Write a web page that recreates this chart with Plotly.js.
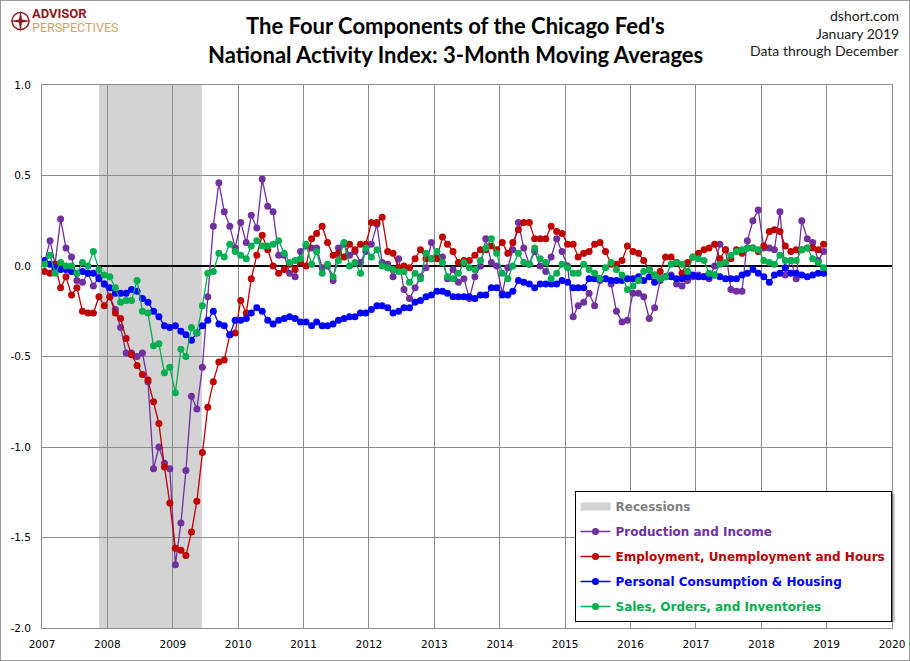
<!DOCTYPE html>
<html>
<head>
<meta charset="utf-8">
<script src="https://cdn.plot.ly/plotly-3.0.1.min.js"></script>
<style>
  html, body { margin: 0; padding: 0; background: #fff; }
  #chart { width: 910px; height: 661px; box-sizing: border-box; border: 1px solid #9a9a9a; }
</style>
</head>
<body>
<div id="chart"></div>
<script>
// ---------------- DATA ----------------
const startYear = 2007;
const endYear = 2018;
const seriesNames = [
  "Production and Income",
  "Employment, Unemployment and Hours",
  "Personal Consumption & Housing",
  "Sales, Orders, and Inventories"
];
const production = [
  0.02, 0.14, 0.01, 0.26, 0.10, 0.05, -0.08, -0.09, -0.04, -0.11, -0.06, -0.10,
  -0.17, -0.24, -0.34, -0.48, -0.48, -0.50, -0.48, -0.64, -1.12, -1.00, -1.09, -1.12,
  -1.65, -1.42, -1.13, -0.72, -0.79, -0.56, -0.17, 0.22, 0.46, 0.30, 0.22, 0.10,
  0.24, 0.13, 0.28, 0.21, 0.48, 0.33, 0.30, 0.06, 0.06, -0.04, -0.06, 0.08,
  0.11, 0.10, 0.10, -0.01, 0.00, -0.08, 0.10, 0.12, 0.06, 0.08, 0.02, 0.08,
  0.12, 0.23, 0.02, 0.01, -0.06, 0.04, -0.13, -0.18, -0.12, -0.06, -0.01, 0.13,
  0.06, 0.05, -0.07, -0.02, -0.09, -0.07, -0.18, -0.06, 0.00, 0.15, 0.02, 0.00,
  -0.15, -0.01, 0.09, 0.24, 0.10, 0.01, 0.08, 0.00, -0.03, 0.05, 0.15, 0.08,
  0.00, -0.28, -0.22, -0.20, -0.15, -0.22, -0.08, -0.07, -0.10, -0.25, -0.31, -0.30,
  -0.15, -0.15, -0.17, -0.29, -0.23, -0.08, -0.06, -0.05, -0.10, -0.11, -0.08, -0.06,
  -0.05, -0.06, -0.07, 0.00, 0.12, 0.09, -0.13, -0.14, -0.14, 0.14, 0.25, 0.31,
  0.10, 0.10, 0.09, 0.30, -0.05, 0.03, -0.07, 0.25, 0.15, 0.13, 0.03, 0.08
];
const employment = [
  -0.03, -0.04, 0.01, -0.12, -0.06, -0.16, -0.12, -0.25, -0.26, -0.26, -0.17, -0.22,
  -0.17, -0.26, -0.29, -0.40, -0.49, -0.55, -0.60, -0.63, -0.75, -0.87, -1.11, -1.31,
  -1.56, -1.57, -1.60, -1.47, -1.30, -1.03, -0.78, -0.64, -0.53, -0.52, -0.38, -0.37,
  -0.19, -0.26, -0.07, 0.06, 0.17, 0.09, 0.00, -0.04, -0.02, 0.01, -0.02, 0.02,
  0.00, 0.15, 0.18, 0.22, 0.13, 0.06, 0.07, 0.05, 0.12, 0.09, 0.12, 0.12,
  0.24, 0.24, 0.27, 0.08, 0.07, -0.01, 0.00, -0.01, 0.04, 0.09, 0.04, 0.04,
  0.04, 0.16, 0.12, 0.08, 0.02, 0.03, 0.03, 0.06, 0.09, 0.09, 0.11, 0.09,
  0.13, 0.07, 0.13, 0.20, 0.24, 0.24, 0.15, 0.15, 0.15, 0.22, 0.19, 0.18,
  0.12, 0.12, 0.05, 0.07, 0.08, 0.12, 0.13, 0.08, 0.01, 0.01, 0.03, 0.11,
  0.08, 0.07, 0.03, -0.02, -0.05, -0.03, 0.05, 0.05, 0.02, -0.04, 0.02, 0.05,
  0.07, 0.09, 0.10, 0.12, 0.04, 0.09, 0.04, 0.09, 0.07, 0.10, 0.10, 0.08,
  0.11, 0.19, 0.20, 0.19, 0.11, 0.08, 0.09, 0.09, 0.10, 0.10, 0.09, 0.12
];
const consumption = [
  0.03, 0.01, -0.01, -0.02, -0.02, -0.03, -0.04, -0.03, -0.04, -0.04, -0.07, -0.10,
  -0.12, -0.15, -0.15, -0.15, -0.13, -0.14, -0.18, -0.20, -0.25, -0.28, -0.33, -0.34,
  -0.33, -0.36, -0.38, -0.41, -0.37, -0.33, -0.30, -0.25, -0.32, -0.33, -0.38, -0.30,
  -0.30, -0.29, -0.26, -0.23, -0.25, -0.30, -0.32, -0.30, -0.29, -0.28, -0.29, -0.31,
  -0.31, -0.33, -0.31, -0.33, -0.33, -0.32, -0.30, -0.29, -0.28, -0.28, -0.26, -0.26,
  -0.24, -0.22, -0.22, -0.23, -0.26, -0.25, -0.23, -0.23, -0.20, -0.19, -0.17, -0.16,
  -0.14, -0.14, -0.15, -0.17, -0.17, -0.17, -0.17, -0.18, -0.16, -0.16, -0.12, -0.12,
  -0.16, -0.16, -0.14, -0.08, -0.09, -0.10, -0.12, -0.10, -0.10, -0.10, -0.10, -0.08,
  -0.09, -0.12, -0.12, -0.12, -0.07, -0.07, -0.07, -0.07, -0.08, -0.08, -0.08, -0.07,
  -0.07, -0.06, -0.08, -0.06, -0.09, -0.07, -0.06, -0.06, -0.07, -0.07, -0.06, -0.05,
  -0.06, -0.06, -0.06, -0.05, -0.06, -0.07, -0.07, -0.07, -0.05, -0.04, -0.02, -0.04,
  -0.06, -0.09, -0.05, -0.04, -0.01, -0.04, -0.04, -0.05, -0.06, -0.05, -0.04, -0.04
];
const sales = [
  0.01, 0.06, -0.04, 0.02, 0.00, 0.00, -0.04, 0.02, 0.00, 0.08, -0.02, -0.05,
  -0.06, -0.12, -0.20, -0.19, -0.19, -0.08, -0.25, -0.26, -0.44, -0.43, -0.59, -0.56,
  -0.70, -0.46, -0.50, -0.34, -0.37, -0.22, -0.04, -0.03, 0.07, 0.05, 0.12, 0.08,
  0.06, 0.04, 0.11, 0.14, 0.11, 0.11, 0.12, 0.14, 0.07, 0.02, 0.03, 0.04,
  0.12, 0.01, 0.08, -0.04, 0.01, -0.06, 0.03, 0.13, 0.00, 0.02, -0.04, 0.10,
  0.05, 0.09, 0.00, -0.01, -0.02, -0.03, -0.03, -0.09, -0.04, -0.07, 0.07, 0.04,
  0.08, 0.02, -0.06, -0.07, -0.04, 0.02, -0.01, -0.02, 0.03, 0.10, 0.15, 0.07,
  -0.04, -0.07, 0.00, 0.07, 0.02, 0.01, 0.10, 0.04, 0.02, -0.07, -0.04, 0.01,
  -0.01, -0.04, -0.04, 0.01, -0.02, -0.04, -0.07, -0.01, 0.02, -0.02, -0.05, -0.13,
  -0.11, -0.08, -0.03, -0.02, -0.05, -0.07, -0.06, 0.01, 0.02, 0.01, -0.03, 0.05,
  0.04, 0.03, -0.04, -0.05, 0.01, 0.02, 0.06, 0.08, 0.09, 0.10, 0.10, 0.09,
  0.03, 0.02, 0.01, 0.06, 0.03, 0.03, 0.03, 0.09, 0.10, 0.04, 0.02, -0.01
];
const recessionStart = "2007-11-16";
const recessionEnd = "2009-06-12";
const yTickVals = [-2.0, -1.5, -1.0, -0.5, 0.0, 0.5, 1.0];
const yTickText = ["-2.0", "-1.5", "-1.0", "-0.5", "0.0", "0.5", "1.0"];

// ---------------- BUILD ----------------
const months = [];
for (let y = startYear; y <= endYear; y++) {
  for (let m = 1; m <= 12; m++) {
    months.push(y + "-" + String(m).padStart(2, "0") + "-15");
  }
}

const colors = ["#7030a0", "#c00000", "#0000ff", "#00b050"];
const values = [production, employment, consumption, sales];

function legendName(text, color) {
  return '<b><span style="color:' + color + '">' + text + '</span></b>';
}

const traces = [{
  x: [null], y: [null],
  type: "scatter", mode: "lines",
  name: legendName("Recessions", "#808080"),
  line: { color: "#d3d3d3", width: 8 },
  hoverinfo: "skip",
  legendgroup: "g0"
}];
values.forEach((vals, i) => {
  traces.push({
    x: months, y: vals,
    type: "scatter", mode: "lines+markers",
    name: legendName(seriesNames[i], colors[i]),
    line: { color: colors[i], width: 1.3 },
    marker: { color: colors[i], size: 7 },
    legendgroup: "g" + (i + 1)
  });
});

// plot area in page pixels: left 42, right 892, top 85, bottom 628
const PL = 42, PR = 892, PT = 85, PB = 628;
const px = v => (v - PL) / (PR - PL);
const py = v => (PB - v) / (PB - PT);

const titleFont = { family: "Lato, 'Open Sans', sans-serif", size: 22, color: "#000" };
const infoFont = { family: "Lato, 'Open Sans', sans-serif", size: 14, color: "#1a1a1a" };

const layout = {
  width: 908, height: 659,
  margin: { l: 41, r: 17, t: 84, b: 32 },
  paper_bgcolor: "#fff",
  plot_bgcolor: "#fff",
  showlegend: true,
  font: { family: "'DejaVu Sans', sans-serif", size: 11, color: "#000" },
  xaxis: {
    type: "date",
    range: ["2007-01-01", "2020-01-01"],
    tick0: "2007-01-01",
    dtick: "M12",
    tickformat: "%Y",
    showgrid: true,
    gridcolor: "#8c8c8c",
    gridwidth: 1,
    showline: true, mirror: true,
    linecolor: "#8c8c8c", linewidth: 1,
    ticks: "",
    ticklabelstandoff: 6,
    tickfont: { family: "'DejaVu Sans', sans-serif", size: 10.5, color: "#000" },
    zeroline: false,
    fixedrange: true
  },
  yaxis: {
    range: [-2.0, 1.0],
    tickvals: yTickVals,
    ticktext: yTickText,
    showgrid: true,
    gridcolor: "#8c8c8c",
    gridwidth: 1,
    showline: true, mirror: true,
    linecolor: "#8c8c8c", linewidth: 1,
    ticks: "",
    ticklabelstandoff: 8,
    tickfont: { family: "'DejaVu Sans', sans-serif", size: 10.5, color: "#000" },
    zeroline: true,
    zerolinecolor: "#000",
    zerolinewidth: 2.5,
    fixedrange: true
  },
  legend: {
    x: px(891.5), xanchor: "right",
    y: py(491), yanchor: "top",
    bgcolor: "#fff",
    bordercolor: "#000",
    borderwidth: 1,
    traceorder: "grouped",
    tracegroupgap: 6,
    font: { family: "'DejaVu Sans', sans-serif", size: 12 }
  },
  shapes: [
    {
      type: "rect", xref: "x", yref: "paper",
      x0: recessionStart, x1: recessionEnd, y0: 0, y1: 1,
      fillcolor: "#d3d3d3", line: { width: 0 }, layer: "below"
    },
    // legend drop shadow
    {
      type: "rect", xref: "paper", yref: "paper",
      x0: px(575), x1: px(895), y0: py(622), y1: py(494),
      fillcolor: "rgba(0,0,0,0.22)", line: { width: 0 }, layer: "above"
    },
    // logo compass
    {
      type: "circle", xref: "paper", yref: "paper",
      x0: px(12), x1: px(29), y0: py(29.5), y1: py(12.5),
      line: { color: "#8b1a1a", width: 1.5 }, fillcolor: "rgba(0,0,0,0)"
    },
    {
      type: "path", xref: "paper", yref: "paper",
      path: "M " + px(20.5) + " " + py(10) +
            " L " + px(22) + " " + py(19.5) +
            " L " + px(31) + " " + py(21) +
            " L " + px(22) + " " + py(22.5) +
            " L " + px(20.5) + " " + py(32) +
            " L " + px(19) + " " + py(22.5) +
            " L " + px(10) + " " + py(21) +
            " L " + px(19) + " " + py(19.5) + " Z",
      fillcolor: "#8b1a1a", line: { width: 0 }
    }
  ],
  annotations: [
    { text: "<b>The Four Components of the Chicago Fed's</b>", xref: "paper", yref: "paper",
      x: px(455), y: py(25), xanchor: "center", yanchor: "middle", showarrow: false, font: titleFont },
    { text: "<b>National Activity Index: 3-Month Moving Averages</b>", xref: "paper", yref: "paper",
      x: px(455), y: py(54), xanchor: "center", yanchor: "middle", showarrow: false, font: titleFont },
    { text: "dshort.com", xref: "paper", yref: "paper",
      x: px(901), y: py(15), xanchor: "right", yanchor: "middle", showarrow: false, font: infoFont },
    { text: "January 2019", xref: "paper", yref: "paper",
      x: px(901), y: py(33), xanchor: "right", yanchor: "middle", showarrow: false, font: infoFont },
    { text: "Data through December", xref: "paper", yref: "paper",
      x: px(901), y: py(51), xanchor: "right", yanchor: "middle", showarrow: false, font: infoFont },
    { text: "<b>ADVISOR</b>", xref: "paper", yref: "paper",
      x: px(31), y: py(13.5), xanchor: "left", yanchor: "middle", showarrow: false, borderpad: 0,
      font: { family: "Roboto, sans-serif", size: 13, color: "#8b1a1a" } },
    { text: "PERSPECTIVES", xref: "paper", yref: "paper",
      x: px(31), y: py(27.5), xanchor: "left", yanchor: "middle", showarrow: false, borderpad: 0,
      font: { family: "Roboto, sans-serif", size: 12.5, color: "#c9a468" } }
  ]
};

Plotly.newPlot("chart", traces, layout, { displayModeBar: false, staticPlot: true });
</script>
</body>
</html>
